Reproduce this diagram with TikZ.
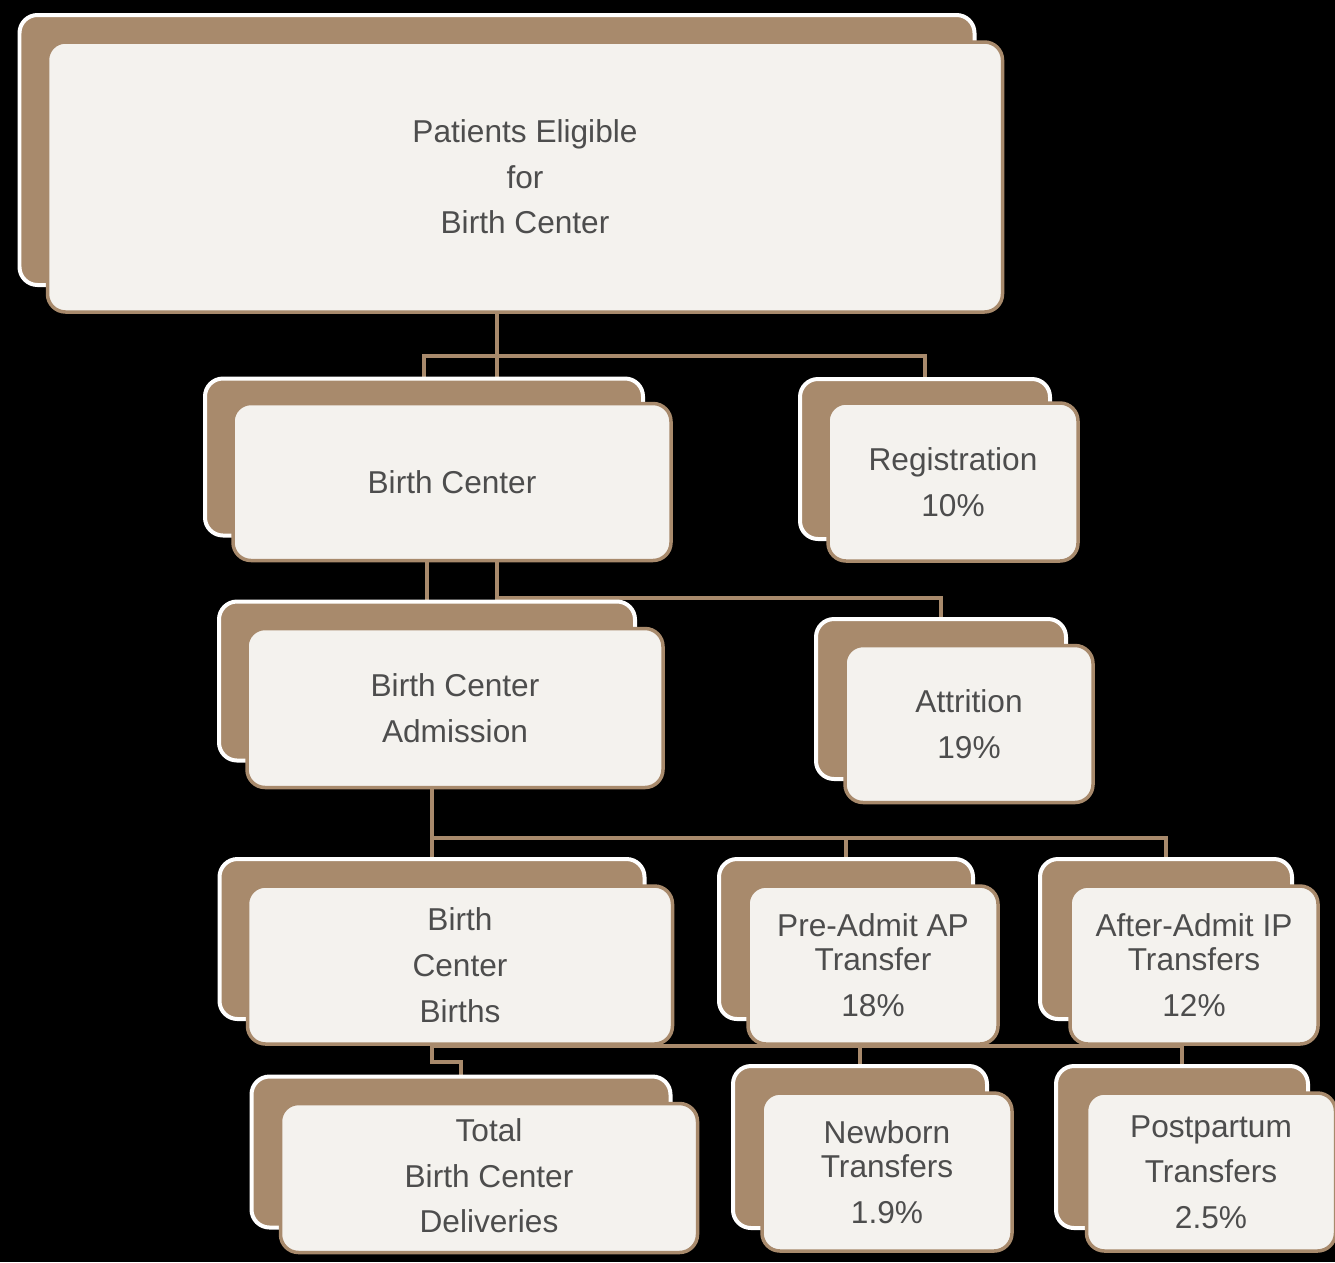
\documentclass[tikz,border=0pt]{standalone}
\usepackage{fontspec}
\setmainfont{Liberation Sans}
\definecolor{cardbrown}{HTML}{A88A6C}
\definecolor{cardface}{HTML}{F4F2EE}
\definecolor{cardtext}{HTML}{4D4D4D}
\pgfdeclarelayer{bg}
\pgfdeclarelayer{links}
\pgfsetlayers{bg,links,main}

\begin{document}
\begin{tikzpicture}[x=0.02cm, y=-0.02cm,
  back/.style 2 args={draw=white, fill=cardbrown, line width=0.08cm, rounded corners=0.36cm,
    minimum width=#1*0.02cm, minimum height=#2*0.02cm, inner sep=0pt},
  face/.style 2 args={draw=cardbrown, fill=cardface, line width=0.07cm, rounded corners=0.36cm,
    minimum width=#1*0.02cm, minimum height=#2*0.02cm, inner sep=0pt, align=center,
    text=cardtext, font=\fontsize{18}{26}\selectfont},
  link/.style={draw=cardbrown, line width=0.09cm}]
	  \useasboundingbox (0,0) rectangle (1335,1262);
	  \begin{pgfonlayer}{bg}
	    \fill[black] (0,0) rectangle (1335,1262);
	  \end{pgfonlayer}

	  \node[back={955}{270}] (pe-b) at (497,150) {};
	  \node[face={955}{270}] (pe) at (525,177) {Patients Eligible\\for\\Birth Center};

	  \node[back={438}{157}] (bc-b) at (424,457) {};
	  \node[face={438}{157}] (bc) at (452,482) {Birth Center};
	  \node[back={250}{160}] (reg-b) at (925,459) {};
	  \node[face={250}{158}] (reg) at (953,482) {Registration\\10\%};

	  \node[back={416}{159}] (adm-b) at (427,681) {};
	  \node[face={416}{159}] (adm) at (455,708) {Birth Center\\Admission};
	  \node[back={250}{160}] (att-b) at (941,699) {};
	  \node[face={248}{157}] (att) at (969,724) {Attrition\\19\%};

	  \node[back={425}{160}] (bcb-b) at (432,939) {};
	  \node[face={425}{158}] (bcb) at (460,965) {Birth\\Center\\Births};
	  \node[back={254}{160}] (pre-b) at (846,939) {};
	  \node[face={250}{158}] (pre) at (873,965) {Pre-Admit AP\\[-0.24cm]Transfer\\18\%};
	  \node[back={252}{160}] (aft-b) at (1166,939) {};
	  \node[face={248}{158}] (aft) at (1194,965) {After-Admit IP\\[-0.24cm]Transfers\\12\%};

	  \node[back={419}{151}] (tot-b) at (461,1152) {};
	  \node[face={417}{149}] (tot) at (489,1178) {\raisebox{0.14cm}{\begin{tabular}{@{}c@{}}Total\\Birth Center\\Deliveries\end{tabular}}};
	  \node[back={254}{162}] (nb-b) at (860,1147) {};
	  \node[face={250}{158}] (nb) at (887,1172) {Newborn\\[-0.24cm]Transfers\\1.9\%};
	  \node[back={252}{162}] (pp-b) at (1182,1147) {};
	  \node[face={249}{158}] (pp) at (1211,1172) {Postpartum\\Transfers\\2.5\%};

	  \begin{pgfonlayer}{links}
	    \coordinate (bar1) at (0,356);
	    \coordinate (bar2) at (0,598);
	    \coordinate (bar3) at (0,838);
	    \draw[link] (pe-b.south) -- (pe-b.south |- bc-b.north);
	    \draw[link] (bc-b.north) -- (bc-b.north |- bar1) -| (reg-b.north);
	    \draw[link] (adm-b.north |- bc.south) -- (adm-b.north);
	    \draw[link] (pe-b.south |- bc.south) -- (pe-b.south |- bar2) -| (att-b.north);
	    \draw[link] (bcb-b.north |- adm.south) -- (bcb-b.north |- bar3) -| (aft-b.north);
	    \draw[link] (bcb-b.north |- bar3) -- (bcb-b.north);
	    \draw[link] (pre-b.north |- bar3) -- (pre-b.north);
	    \draw[link] (bcb-b.south |- bcb.south) -- (pp-b.north |- bcb.south) -- (pp-b.north);
	    \draw[link] (nb-b.north |- bcb.south) -- (nb-b.north);
	    \draw[link] (bcb-b.south |- bcb.south) -- ++(0,16) -| (tot-b.north);
	  \end{pgfonlayer}
	\end{tikzpicture}
\end{document}
